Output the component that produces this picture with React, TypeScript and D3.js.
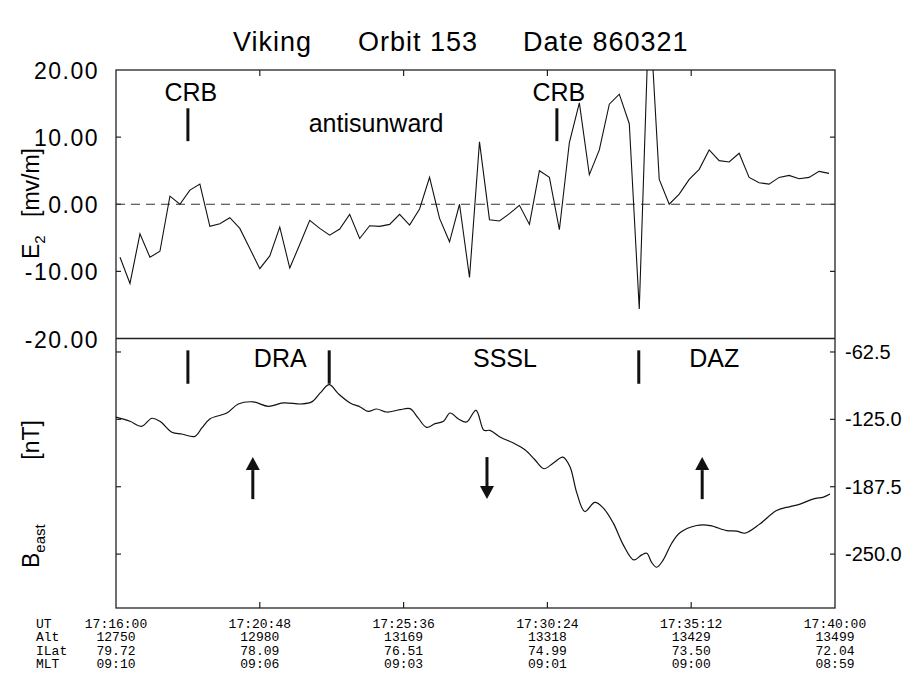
import React, { useEffect, useRef } from 'react';
import * as d3 from 'd3';

// E2 field, one sample every 20 s from 17:16:08 (mV/m)
const e2Values = [
  -7.9, -11.8, -4.4, -7.9, -7.0, 1.2, 0.0, 2.1, 3.0, -3.3,
  -2.9, -2.0, -3.6, -6.6, -9.6, -7.7, -3.4, -9.5, -6.0, -2.4,
  -3.6, -4.6, -3.7, -1.5, -5.1, -3.2, -3.3, -3.0, -1.5, -3.1,
  -0.7, 4.0, -2.1, -5.6, 0.0, -10.9, 9.3, -2.3, -2.5, -1.4,
  -0.15, -3.0, 5.0, 4.0, -3.8, 9.2, 15.1, 4.4, 8.1, 14.9,
  16.4, 12.0, -15.6, 30.0, 3.7, 0.0, 1.5, 3.7, 5.2, 8.1,
  6.5, 6.3, 7.6, 4.0, 3.2, 3.0, 4.0, 4.3, 3.8, 4.0,
  4.9, 4.6,
];
const e2FirstSec = 8;
const e2StepSec = 20;

// B east (nT), seconds after 17:16:00
const bTimes = [
  0, 28, 51, 72, 88, 112, 132, 158, 172, 188, 222, 245, 275, 305, 335, 372, 392, 409,
  427, 445, 469, 489, 505, 522, 542, 569, 589, 605, 622, 639, 656, 669, 686, 702, 721,
  737, 749, 769, 796, 819, 839, 857, 876, 895, 909, 923, 939, 959, 976, 996, 1016, 1037,
  1053, 1063, 1073, 1083, 1096, 1113, 1130, 1163, 1190, 1223, 1243, 1260, 1290, 1323,
  1350, 1370, 1397, 1417, 1430,
];
const bValues = [
  -123.0, -126.8, -131.5, -124.0, -126.8, -137.0, -138.6, -140.8, -133.0, -124.6, -119.1,
  -110.7, -108.8, -112.9, -109.8, -110.7, -108.8, -100.5, -92.8, -101.1, -109.8, -113.5,
  -117.6, -115.4, -118.2, -116.0, -115.1, -123.7, -132.4, -129.0, -126.8, -119.1, -124.6,
  -127.4, -116.6, -135.2, -135.2, -141.4, -147.0, -153.2, -162.5, -170.8, -165.5, -160.0,
  -168.7, -193.4, -210.5, -202.1, -207.3, -221.3, -241.4, -255.4, -250.7, -249.2, -257.9,
  -262.2, -255.4, -239.9, -230.0, -223.5, -223.5, -228.2, -228.7, -230.6, -221.9, -209.6,
  -205.9, -203.6, -198.7, -197.1, -194.3,
];

const rowNames = ['UT', 'Alt', 'ILat', 'MLT'];
const utLabels = ['17:16:00', '17:20:48', '17:25:36', '17:30:24', '17:35:12', '17:40:00'];
const altLabels = ['12750', '12980', '13169', '13318', '13429', '13499'];
const ilatLabels = ['79.72', '78.09', '76.51', '74.99', '73.50', '72.04'];
const mltLabels = ['09:10', '09:06', '09:03', '09:01', '09:00', '08:59'];
const tickSecs = [0, 288, 576, 864, 1152, 1440];

const e2Ticks = [20, 10, 0, -10, -20];
const bTicks = [-62.5, -125, -187.5, -250];

// annotations (seconds after 17:16:00)
const e2Bars = [144, 883];
const e2Labels = [
  { sec: 150, text: 'CRB' },
  { sec: 887, text: 'CRB' },
  { sec: 521, text: 'antisunward' },
];
const bBars = [144, 427, 1047];
const bLabels = [
  { sec: 329, text: 'DRA' },
  { sec: 779, text: 'SSSL' },
  { sec: 1198, text: 'DAZ' },
];
const arrows = [
  { sec: 274, dir: 'up' },
  { sec: 743, dir: 'down' },
  { sec: 1174, dir: 'up' },
];

const hyphen = (s: string) => s.replace('\u2212', '-');

export default function App() {
  const ref = useRef<SVGSVGElement>(null);

  useEffect(() => {
    draw();
    // eslint-disable-next-line react-hooks/exhaustive-deps
  }, []);

  function draw() {
    const svg = d3.select(ref.current);
    svg.selectAll('*').remove();
    const left = 116;
    const right = 835;
    const top = 70;
    const mid = 338.5;
    const bottom = 608;
    const sans = 'Liberation Sans, Arial, sans-serif';

    const x = d3.scaleLinear().domain([0, 1440]).range([left, right]);
    const yE = d3.scaleLinear().domain([-20, 20]).range([mid, top]);
    const yB = d3.scaleLinear().domain([-50, -300]).range([mid, bottom]);

    // title
    const title = svg.append('g').attr('font-family', sans).attr('font-size', 27).attr('letter-spacing', 1);
    title.append('text').attr('x', 233).attr('y', 51).text('Viking');
    title.append('text').attr('x', 358).attr('y', 51).text('Orbit 153');
    title.append('text').attr('x', 523).attr('y', 51).text('Date 860321');

    // frame
    const frame = svg.append('g').attr('stroke', '#222').attr('fill', 'none').attr('stroke-width', 1.3);
    frame.append('rect').attr('x', left).attr('y', top).attr('width', right - left).attr('height', bottom - top);
    frame.append('line').attr('x1', left).attr('x2', right).attr('y1', mid).attr('y2', mid);

    const ticks = svg.append('g').attr('stroke', '#222').attr('stroke-width', 1.2);
    tickSecs.slice(1, -1).forEach((s) => {
      ticks.append('line').attr('x1', x(s)).attr('x2', x(s)).attr('y1', top).attr('y2', top + 6);
      ticks.append('line').attr('x1', x(s)).attr('x2', x(s)).attr('y1', bottom).attr('y2', bottom - 6);
    });
    e2Ticks.slice(1, -1).forEach((v) => {
      ticks.append('line').attr('x1', left).attr('x2', left + 5).attr('y1', yE(v)).attr('y2', yE(v));
      ticks.append('line').attr('x1', right).attr('x2', right - 5).attr('y1', yE(v)).attr('y2', yE(v));
    });
    bTicks.forEach((v) => {
      ticks.append('line').attr('x1', left).attr('x2', left + 5).attr('y1', yB(v)).attr('y2', yB(v));
      ticks.append('line').attr('x1', right).attr('x2', right - 5).attr('y1', yB(v)).attr('y2', yB(v));
    });

    // left tick labels
    svg.append('g')
      .attr('font-family', sans)
      .attr('font-size', 23)
      .attr('letter-spacing', 1.5)
      .attr('text-anchor', 'end')
      .selectAll('text')
      .data(e2Ticks)
      .enter()
      .append('text')
      .attr('x', 99)
      .attr('y', (d) => yE(d) + 9)
      .text((d) => hyphen(d3.format('.2f')(d)));

    // right tick labels
    svg.append('g')
      .attr('font-family', sans)
      .attr('font-size', 20)
      .selectAll('text')
      .data(bTicks)
      .enter()
      .append('text')
      .attr('x', 845)
      .attr('y', (d) => yB(d) + 7)
      .text((d) => hyphen(d3.format('.1f')(d)));

    // axis titles
    const yLabX = 39;
    const e2Title = svg.append('text')
      .attr('font-family', sans)
      .attr('font-size', 23)
      .attr('transform', `translate(${yLabX},259) rotate(-90)`);
    e2Title.append('tspan').text('E');
    e2Title.append('tspan').attr('font-size', 15).attr('dy', 6).text('2');
    svg.append('text')
      .attr('font-family', sans)
      .attr('font-size', 23)
      .attr('text-anchor', 'end')
      .attr('transform', `translate(${yLabX},148) rotate(-90)`)
      .text('[mv/m]');

    const bTitle = svg.append('text')
      .attr('font-family', sans)
      .attr('font-size', 23)
      .attr('transform', `translate(${yLabX},568) rotate(-90)`);
    bTitle.append('tspan').text('B');
    bTitle.append('tspan').attr('font-size', 15).attr('dy', 6).text('east');
    svg.append('text')
      .attr('font-family', sans)
      .attr('font-size', 23)
      .attr('text-anchor', 'end')
      .attr('transform', `translate(${yLabX},420) rotate(-90)`)
      .text('[nT]');

    // zero line
    svg.append('line')
      .attr('x1', left)
      .attr('x2', right)
      .attr('y1', yE(0))
      .attr('y2', yE(0))
      .attr('stroke', '#333')
      .attr('stroke-width', 1)
      .attr('stroke-dasharray', '9,6');

    // E2 line
    svg.append('clipPath')
      .attr('id', 'topclip')
      .append('rect')
      .attr('x', left)
      .attr('y', top)
      .attr('width', right - left)
      .attr('height', mid - top);
    const e2Line = d3
      .line<number>()
      .x((d, i) => x(e2FirstSec + i * e2StepSec))
      .y((d) => yE(d));
    svg.append('path')
      .attr('clip-path', 'url(#topclip)')
      .attr('d', e2Line(e2Values))
      .attr('fill', 'none')
      .attr('stroke', '#111')
      .attr('stroke-width', 1.1);

    // B east line
    const bLine = d3
      .line<number>()
      .x((d, i) => x(bTimes[i]))
      .y((d) => yB(d))
      .curve(d3.curveCatmullRom.alpha(0.5));
    svg.append('path')
      .attr('d', bLine(bValues))
      .attr('fill', 'none')
      .attr('stroke', '#111')
      .attr('stroke-width', 1.2);

    // markers
    const marks = svg.append('g').attr('stroke', '#111').attr('stroke-width', 3);
    e2Bars.forEach((s) => {
      marks.append('line').attr('x1', x(s)).attr('x2', x(s)).attr('y1', yE(14.3)).attr('y2', yE(9.4));
    });
    bBars.forEach((s) => {
      marks.append('line').attr('x1', x(s)).attr('x2', x(s)).attr('y1', yB(-61)).attr('y2', yB(-92));
    });

    const labels = svg.append('g').attr('font-family', sans).attr('font-size', 25).attr('text-anchor', 'middle');
    e2Labels.forEach((d) => {
      const lvl = d.text === 'CRB' ? 15.4 : 10.7;
      labels.append('text').attr('x', x(d.sec)).attr('y', yE(lvl)).text(d.text);
    });
    bLabels.forEach((d) => {
      labels.append('text').attr('x', x(d.sec)).attr('y', yB(-76)).text(d.text);
    });

    // arrows
    const arr = svg.append('g');
    arrows.forEach((a) => {
      const ax = x(a.sec);
      const yTop = yB(-160);
      const yBot = yB(-199);
      const tipY = a.dir === 'up' ? yTop : yBot;
      const baseY = a.dir === 'up' ? yTop + 13 : yBot - 13;
      const tailY = a.dir === 'up' ? yBot : yTop;
      arr.append('line')
        .attr('x1', ax)
        .attr('x2', ax)
        .attr('y1', tailY)
        .attr('y2', baseY)
        .attr('stroke', '#111')
        .attr('stroke-width', 3);
      arr.append('path')
        .attr('d', `M${ax},${tipY}L${ax - 7},${baseY}L${ax + 7},${baseY}Z`)
        .attr('fill', '#111');
    });

    // orbit table
    const table = svg.append('g').attr('font-family', 'Liberation Mono, Courier New, monospace').attr('font-size', 13);
    const rowY = [628, 641, 655, 668];
    rowNames.forEach((n, r) => {
      table.append('text').attr('x', 36).attr('y', rowY[r]).text(n);
    });
    [utLabels, altLabels, ilatLabels, mltLabels].forEach((row, r) => {
      row.forEach((t, i) => {
        table.append('text')
          .attr('x', x(tickSecs[i]))
          .attr('y', rowY[r])
          .attr('text-anchor', 'middle')
          .text(t);
      });
    });
  }

  return (
    <svg
      ref={ref}
      width={904}
      height={673}
      style={{ position: 'absolute', left: 0, top: 0, background: '#fff' }}
    />
  );
}
